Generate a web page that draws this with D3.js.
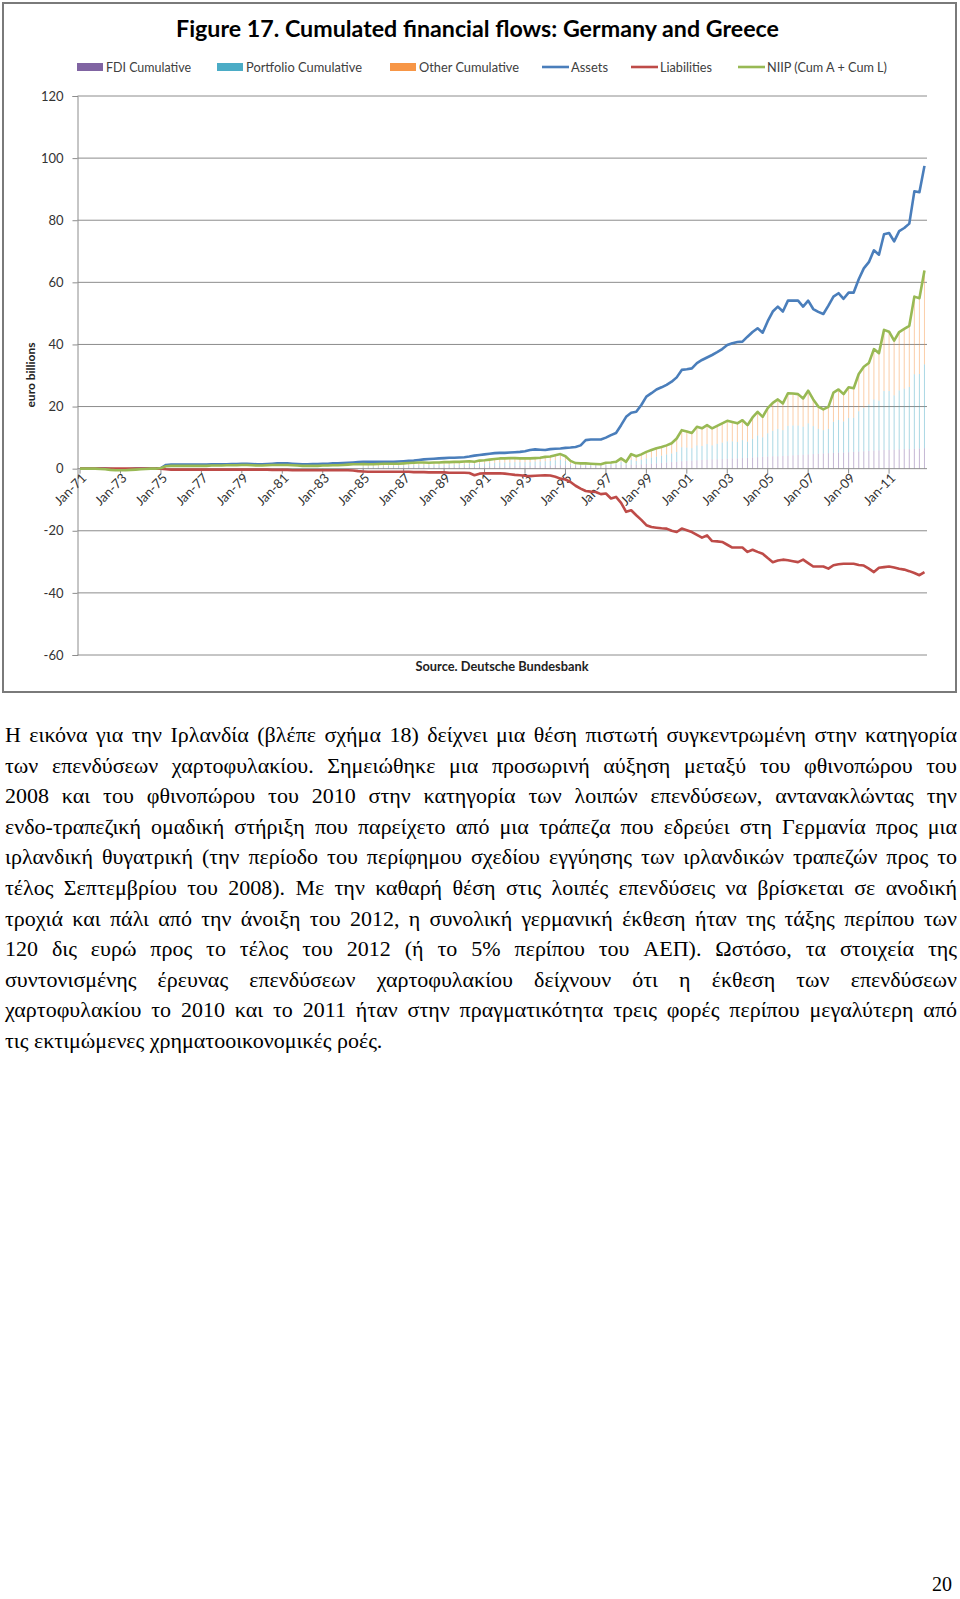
<!DOCTYPE html>
<html>
<head>
<meta charset="utf-8">
<script src="https://cdn.jsdelivr.net/npm/d3@7"></script>
<style>
  body { margin: 0; background: #fff; }
  svg { display: block; }
</style>
</head>
<body>
<svg id="page" width="960" height="1599"></svg>
<script>
// quarterly categories, 1971Q1 .. 2012Q4
const categories = d3.range(1971, 2013).flatMap(yr => [1, 2, 3, 4].map(q => yr + "Q" + q));

const tickLabels = ["Jan-71","Jan-73","Jan-75","Jan-77","Jan-79","Jan-81","Jan-83","Jan-85","Jan-87","Jan-89",
  "Jan-91","Jan-93","Jan-95","Jan-97","Jan-99","Jan-01","Jan-03","Jan-05","Jan-07","Jan-09","Jan-11"];

const yTicks = [-60, -40, -20, 0, 20, 40, 60, 80, 100, 120];

// euro billions
const assets = [
  0,0,0,0, 0,0,-0.1,-0.2, -0.2,-0.2,-0.1,0, 0,0,0.1,0.1,
  0.2,1.2,1.3,1.3,
  1.3,1.3,1.3,1.3, 1.3,1.3,1.4,1.4, 1.4,1.4,1.5,1.5, 1.6,1.6,1.5,1.4,
  1.4,1.5,1.6,1.7, 1.7,1.7,1.6,1.5, 1.4,1.4,1.5,1.5, 1.6,1.6,1.7,1.7,
  1.8,1.9,2.0,2.1, 2.2,2.2,2.2,2.2, 2.2,2.2,2.2,2.3, 2.4,2.5,2.6,2.8,
  3.0,3.1,3.2,3.3, 3.4,3.5,3.5,3.6, 3.7,3.9,4.2,4.4, 4.6,4.8,5.0,5.1,
  5.1,5.2,5.3,5.4, 5.6,6.0,6.2,6.1, 6.0,6.3,6.4,6.5, 6.7,6.8,7.0,7.5,
  9.2,9.4,9.4,9.4, 10.0,10.8,11.5,14.0, 16.7,18.0,18.3,20.5, 23.2,24.3,25.5,26.2,
  27.0,28.0,29.4,31.8, 32.0,32.3,34.0,35.0, 35.8,36.6,37.5,38.5, 39.8,40.4,40.8,40.9,
  42.5,44.0,45.2,43.8, 47.5,50.6,52.2,50.6, 54.1,54.1,54.1,52.2, 54.1,51.4,50.5,49.8,
  52.5,55.4,56.5,54.7, 56.7,56.7,61.0,64.5, 66.5,70.3,68.9,75.5, 75.9,73.2,76.5,77.5,
  78.9,89.3,89.0,97.5
];

const liabilities = [
  0,0,0,0, 0,0,0,0, 0,0,0,0, 0,0,0,0,
  0,-0.2,-0.3,-0.3,
  -0.3,-0.3,-0.3,-0.3, -0.3,-0.3,-0.3,-0.3, -0.3,-0.3,-0.3,-0.3, -0.3,-0.3,-0.3,-0.3,
  -0.3,-0.3,-0.4,-0.4, -0.4,-0.4,-0.5,-0.5, -0.5,-0.5,-0.5,-0.5, -0.5,-0.5,-0.5,-0.5,
  -0.5,-0.5,-0.6,-0.8, -0.9,-1.0,-1.0,-1.0, -1.0,-1.0,-1.0,-1.0, -1.0,-1.0,-1.1,-1.1,
  -1.1,-1.2,-1.2,-1.2, -1.2,-1.3,-1.3,-1.3, -1.3,-1.4,-2.1,-1.6, -1.5,-1.5,-1.5,-1.5,
  -1.6,-1.8,-2.0,-2.1, -2.3,-2.4,-2.3,-2.2, -2.1,-2.2,-2.6,-3.2, -3.5,-4.3,-5.5,-6.4,
  -7.2,-7.4,-7.5,-8.2, -8.0,-9.6,-9.1,-11.0, -13.9,-13.4,-15.0,-16.5, -18.2,-18.8,-19.0,-19.2,
  -19.3,-20.0,-20.4,-19.3, -19.8,-20.4,-21.3,-22.2, -21.5,-23.3,-23.4,-23.6, -24.5,-25.4,-25.4,-25.4,
  -26.8,-26.1,-26.8,-27.4, -28.8,-30.1,-29.6,-29.3, -29.5,-29.8,-30.1,-29.3, -30.4,-31.5,-31.5,-31.5,
  -32.2,-31.1,-30.8,-30.6, -30.6,-30.6,-31.0,-31.2, -32.2,-33.3,-31.9,-31.7, -31.5,-31.8,-32.2,-32.5,
  -33.0,-33.6,-34.3,-33.3
];

const niip = [
  0,0,0,0, -0.1,-0.2,-0.4,-0.5, -0.5,-0.5,-0.4,-0.3, -0.2,-0.1,0,0,
  0.2,0.8,0.9,0.9,
  0.9,0.9,0.9,0.9, 0.9,0.9,1.0,1.0, 1.0,1.1,1.1,1.1, 1.2,1.2,1.1,1.0,
  1.0,1.1,1.2,1.2, 1.2,1.2,1.1,1.0, 0.9,0.9,0.9,0.9, 1.0,1.0,1.1,1.1,
  1.2,1.3,1.4,1.4, 1.5,1.4,1.4,1.5, 1.6,1.6,1.6,1.6, 1.7,1.8,1.9,2.0,
  2.0,1.9,2.0,2.0, 2.1,2.1,2.2,2.2, 2.3,2.4,2.2,2.6, 2.7,2.9,3.1,3.3,
  3.3,3.4,3.4,3.3, 3.3,3.3,3.4,3.5, 3.8,3.9,4.3,4.7, 4.0,2.5,1.8,1.7,
  1.7,1.6,1.5,1.4, 1.9,2.0,2.2,3.3, 2.2,4.7,4.0,4.6, 5.4,6.0,6.6,7.0,
  7.5,8.2,9.7,12.4, 12.0,11.5,13.5,13.0, 14.0,13.0,13.8,14.6, 15.4,15.0,14.6,15.6,
  14.0,16.5,18.3,16.7, 19.5,21.2,22.3,21.0, 24.3,24.2,24.0,22.6, 25.1,22.3,20.0,19.1,
  19.9,24.5,25.5,24.0, 26.2,25.9,30.5,32.8, 34.0,38.5,37.2,44.7, 44.1,41.2,44.0,45.0,
  46.0,55.4,54.9,63.8
];

// stacked components, from 1985 on (zero before)
const fdi = [
  0,0,0,0,0,0,0,0,0,0,0,0,0,0,0,0,0,0,0,0,0,0,0,0,0,0,0,0,
  0,0,0,0,0,0,0,0,0,0,0,0,0,0,0,0,0,0,0,0,0,0,0,0,0,0,0,0,
  0.3,0.3,0.3,0.3, 0.4,0.4,0.4,0.4, 0.5,0.5,0.5,0.5,
  0.5,0.5,0.5,0.5, 0.6,0.6,0.6,0.6, 0.7,0.7,0.7,0.7, 0.8,0.8,0.8,0.8,
  0.8,0.8,0.9,0.9, 0.9,0.9,1.0,1.0, 1.0,1.0,1.1,1.1, 1.1,1.0,1.0,1.0,
  1.0,1.0,1.0,1.0, 1.1,1.1,1.2,1.2, 1.2,1.3,1.3,1.4, 1.5,1.6,1.7,1.8,
  2.0,2.1,2.2,2.4, 2.5,2.6,2.7,2.8, 2.9,3.0,3.0,3.1, 3.2,3.3,3.3,3.4,
  3.5,3.6,3.7,3.8, 3.9,4.0,4.0,4.1, 4.2,4.3,4.4,4.5, 4.6,4.7,4.8,4.9,
  5.0,5.1,5.2,5.2, 5.3,5.4,5.5,5.6, 5.7,5.8,5.9,6.0, 6.0,6.1,6.2,6.3,
  6.3,6.4,6.5,6.6
];

const portfolio = [
  0,0,0,0,0,0,0,0,0,0,0,0,0,0,0,0,0,0,0,0,0,0,0,0,0,0,0,0,
  0,0,0,0,0,0,0,0,0,0,0,0,0,0,0,0,0,0,0,0,0,0,0,0,0,0,0,0,
  0.4,0.4,0.4,0.4, 0.4,0.5,0.5,0.5, 0.5,0.5,0.6,0.6,
  0.6,0.6,0.6,0.6, 0.6,0.6,0.7,0.7, 0.7,0.8,0.8,0.9, 0.9,1.0,1.1,1.2,
  1.2,1.2,1.2,1.2, 1.2,1.2,1.3,1.3, 1.4,1.5,1.6,1.8, 1.4,0.5,0.2,0.2,
  0.2,0.2,0.2,0.2, 0.3,0.4,0.5,1.0, 0.5,1.5,1.2,1.5, 1.8,2.0,2.2,2.4,
  2.6,2.8,3.2,4.5, 4.3,4.0,4.8,4.5, 5.0,4.5,5.0,5.3, 5.6,5.5,5.3,5.8,
  5.2,6.0,7.0,6.3, 7.5,8.2,8.8,8.3, 9.6,9.6,9.5,9.0, 10.0,9.0,8.0,7.5,
  7.8,10.0,10.5,10.0, 11.0,11.0,13.0,14.0, 15.0,16.5,16.0,19.0, 19.0,17.5,19.0,19.5,
  20.0,24.0,24.0,27.0
];

const other = [
  0,0,0,0,0,0,0,0,0,0,0,0,0,0,0,0,0,0,0,0,0,0,0,0,0,0,0,0,
  0,0,0,0,0,0,0,0,0,0,0,0,0,0,0,0,0,0,0,0,0,0,0,0,0,0,0,0,
  0.8,0.7,0.7,0.8, 0.8,0.7,0.7,0.7, 0.7,0.8,0.8,0.9,
  0.9,0.8,0.9,0.9, 0.9,0.9,0.9,0.9, 0.9,0.9,0.7,1.0, 1.0,1.1,1.2,1.3,
  1.3,1.4,1.3,1.2, 1.2,1.2,1.1,1.2, 1.4,1.4,1.6,1.8, 1.5,1.0,0.6,0.5,
  0.5,0.4,0.3,0.2, 0.5,0.5,0.5,1.1, 0.5,1.9,1.5,1.7, 2.1,2.4,2.7,2.8,
  2.9,3.3,4.3,5.5, 5.2,4.9,6.0,5.7, 6.1,5.5,5.8,6.2, 6.6,6.2,6.0,6.4,
  5.3,6.9,7.6,6.6, 8.1,9.0,9.5,8.6, 10.5,10.3,10.1,9.1, 10.5,8.6,7.2,6.7,
  7.1,9.4,9.8,8.8, 9.9,9.5,12.0,13.2, 13.3,16.2,15.3,19.7, 19.1,17.6,18.8,19.2,
  19.7,25.0,24.4,30.2
];

const barKeys = ["fdi", "portfolio", "other"];
const barNames = ["FDI Cumulative", "Portfolio Cumulative", "Other Cumulative"];
const lineNames = ["Assets", "Liabilities", "NIIP (Cum A + Cum L)"];

const paragraph = [
  "Η εικόνα για την Ιρλανδία (βλέπε σχήμα 18) δείχνει μια θέση πιστωτή συγκεντρωμένη στην κατηγορία",
  "των επενδύσεων χαρτοφυλακίου. Σημειώθηκε μια προσωρινή αύξηση μεταξύ του φθινοπώρου του",
  "2008 και του φθινοπώρου του 2010 στην κατηγορία των λοιπών επενδύσεων, αντανακλώντας την",
  "ενδο-τραπεζική ομαδική στήριξη που παρείχετο από μια τράπεζα που εδρεύει στη Γερμανία προς μια",
  "ιρλανδική θυγατρική (την περίοδο του περίφημου σχεδίου εγγύησης των ιρλανδικών τραπεζών προς το",
  "τέλος Σεπτεμβρίου του 2008). Με την καθαρή θέση στις λοιπές επενδύσεις να βρίσκεται σε ανοδική",
  "τροχιά και πάλι από την άνοιξη του 2012, η συνολική γερμανική έκθεση ήταν της τάξης περίπου των",
  "120 δις ευρώ προς το τέλος του 2012 (ή το 5% περίπου του ΑΕΠ). Ωστόσο, τα στοιχεία της",
  "συντονισμένης έρευνας επενδύσεων χαρτοφυλακίου δείχνουν ότι η έκθεση των επενδύσεων",
  "χαρτοφυλακίου το 2010 και το 2011 ήταν στην πραγματικότητα τρεις φορές περίπου μεγαλύτερη από",
  "τις εκτιμώμενες χρηματοοικονομικές ροές."
];

// ---------------------------------------------------------------
const svg = d3.select("#page");
const sans = "Lato, 'Open Sans', sans-serif";
const plotLeft = 77.5, plotRight = 927, plotTop = 96, plotBottom = 655;

const colors = { fdi: "#8064a2", portfolio: "#4bacc6", other: "#f79646",
  assets: "#4a7ebb", liabilities: "#be4b48", niip: "#98b954" };

// frame of the chart
svg.append("rect")
  .attr("x", 3).attr("y", 3).attr("width", 953).attr("height", 689)
  .attr("fill", "none").attr("stroke", "#7a7a7a").attr("stroke-width", 2);

// title
svg.append("text")
  .attr("x", 477.5).attr("y", 37)
  .attr("text-anchor", "middle")
  .attr("font-family", sans).attr("font-weight", "bold").attr("font-size", 22)
  .attr("textLength", 603).attr("lengthAdjust", "spacingAndGlyphs")
  .attr("fill", "#000")
  .text("Figure 17. Cumulated financial flows: Germany and Greece");

const x = d3.scaleBand().domain(categories).range([plotLeft, plotRight])
  .paddingInner(0.8).paddingOuter(0.4);
const xc = c => x(c) + x.bandwidth() / 2;

const y = d3.scaleLinear().domain([-60, 120]).range([plotBottom, plotTop]);

// gridlines
svg.append("g").selectAll("line")
  .data(yTicks.filter(v => v !== 0))
  .enter().append("line")
  .attr("x1", plotLeft).attr("x2", plotRight)
  .attr("y1", d => y(d)).attr("y2", d => y(d))
  .attr("stroke", "#8c8c8c").attr("stroke-width", 1);

// y axis
const yAxis = svg.append("g")
  .attr("transform", `translate(${plotLeft},0)`)
  .call(d3.axisLeft(y).tickValues(yTicks).tickSize(5).tickPadding(9).tickFormat(d => String(d)));
yAxis.select(".domain").attr("stroke", "#8c8c8c");
yAxis.selectAll(".tick line").attr("stroke", "#8c8c8c");
yAxis.selectAll(".tick text")
  .attr("font-family", sans).attr("font-size", 13).attr("fill", "#333");

svg.append("text")
  .attr("transform", "translate(35,375) rotate(-90)")
  .attr("text-anchor", "middle")
  .attr("font-family", sans).attr("font-weight", "bold").attr("font-size", 12)
  .attr("fill", "#222")
  .text("euro billions");

// stacked bars
const rows = categories.map((c, i) => ({ cat: c, fdi: fdi[i], portfolio: portfolio[i], other: other[i] }));
const stacked = d3.stack().keys(barKeys)(rows);

svg.append("g").selectAll("g")
  .data(stacked)
  .enter().append("g")
  .attr("fill", d => colors[d.key])
  .attr("opacity", 0.45)
  .selectAll("rect")
  .data(d => d)
  .enter().append("rect")
  .attr("x", d => x(d.data.cat))
  .attr("width", x.bandwidth())
  .attr("y", d => y(Math.max(d[0], d[1])))
  .attr("height", d => Math.abs(y(d[0]) - y(d[1])));

// x axis on zero line
svg.append("line")
  .attr("x1", plotLeft).attr("x2", plotRight)
  .attr("y1", y(0)).attr("y2", y(0))
  .attr("stroke", "#8c8c8c").attr("stroke-width", 1);

const labelCats = tickLabels.map((t, k) => categories[k * 8]);

svg.append("g").selectAll("line")
  .data(labelCats)
  .enter().append("line")
  .attr("x1", d => xc(d)).attr("x2", d => xc(d))
  .attr("y1", y(0)).attr("y2", y(0) + 5)
  .attr("stroke", "#8c8c8c");

svg.append("g").selectAll("text")
  .data(tickLabels)
  .enter().append("text")
  .attr("transform", (d, k) => `translate(${xc(labelCats[k]) + 4},${y(0) + 7}) rotate(-45)`)
  .attr("text-anchor", "end")
  .attr("dy", "0.35em")
  .attr("font-family", sans).attr("font-size", 13).attr("fill", "#333")
  .text(d => d);

// lines
const line = d3.line()
  .x((d, i) => xc(categories[i]))
  .y(d => y(d));

[["assets", assets], ["liabilities", liabilities], ["niip", niip]].forEach(([key, vals]) => {
  svg.append("path")
    .datum(vals)
    .attr("d", line)
    .attr("fill", "none")
    .attr("stroke", colors[key])
    .attr("stroke-width", 2.6)
    .attr("stroke-linejoin", "round");
});

// legend
const legend = [
  { name: barNames[0], key: "fdi", type: "bar", x: 77, w: 85 },
  { name: barNames[1], key: "portfolio", type: "bar", x: 217, w: 116 },
  { name: barNames[2], key: "other", type: "bar", x: 390, w: 100 },
  { name: lineNames[0], key: "assets", type: "line", x: 542, w: 37 },
  { name: lineNames[1], key: "liabilities", type: "line", x: 631, w: 52 },
  { name: lineNames[2], key: "niip", type: "line", x: 738, w: 120 }
];
const ly = 67;
legend.forEach(d => {
  if (d.type === "bar") {
    svg.append("rect").attr("x", d.x).attr("y", ly - 4).attr("width", 26).attr("height", 8)
      .attr("fill", colors[d.key]);
  } else {
    svg.append("line").attr("x1", d.x).attr("x2", d.x + 27).attr("y1", ly).attr("y2", ly)
      .attr("stroke", colors[d.key]).attr("stroke-width", 2.6);
  }
  svg.append("text")
    .attr("x", d.x + 29).attr("y", ly + 4.5)
    .attr("font-family", sans).attr("font-size", 12.5).attr("fill", "#404040")
    .attr("textLength", d.w).attr("lengthAdjust", "spacingAndGlyphs")
    .text(d.name);
});

// source
svg.append("text")
  .attr("x", 502).attr("y", 671)
  .attr("text-anchor", "middle")
  .attr("font-family", sans).attr("font-weight", "bold").attr("font-size", 12.5)
  .attr("fill", "#222")
  .attr("textLength", 173).attr("lengthAdjust", "spacingAndGlyphs")
  .text("Source. Deutsche Bundesbank");

// greek paragraph, justified word by word
const serif = "'Liberation Serif', 'Times New Roman', serif";
const pLeft = 5, pWidth = 952, fs = 22;
const para = svg.append("g")
  .attr("font-family", serif).attr("font-size", fs).attr("fill", "#000");

paragraph.forEach((ln, k) => {
  const by = 742 + k * 30.6;
  const words = ln.split(" ");
  const nodes = words.map(w => para.append("text").attr("y", by).text(w));
  const widths = nodes.map(n => n.node().getComputedTextLength());
  const total = d3.sum(widths);
  const last = k === paragraph.length - 1;
  const gap = last ? fs * 0.25 : (pWidth - total) / (words.length - 1);
  let cx = pLeft;
  nodes.forEach((n, j) => {
    n.attr("x", cx);
    cx += widths[j] + gap;
  });
});

// page number
svg.append("text")
  .attr("x", 952).attr("y", 1591)
  .attr("text-anchor", "end")
  .attr("font-family", serif).attr("font-size", 20).attr("fill", "#000")
  .text("20");
</script>
</body>
</html>
